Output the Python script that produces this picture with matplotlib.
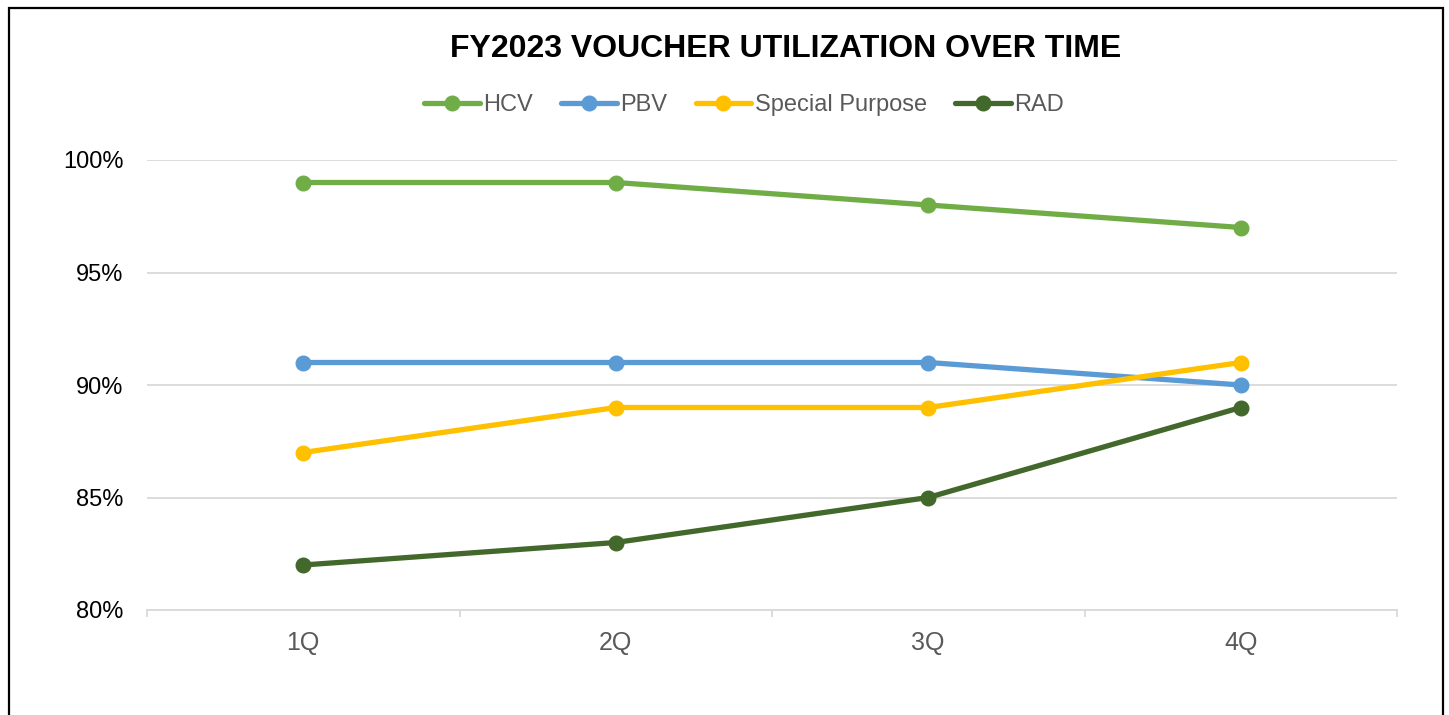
import matplotlib
matplotlib.use("Agg")
import matplotlib.pyplot as plt
from matplotlib.patches import Rectangle
from matplotlib.ticker import FixedLocator, PercentFormatter

plt.rcParams['font.family'] = ['Liberation Sans', 'DejaVu Sans']

quarters = ['1Q', '2Q', '3Q', '4Q']
hcv = [99, 99, 98, 97]
pbv = [91, 91, 91, 90]
special = [87, 89, 89, 91]
rad = [82, 83, 85, 89]

series = [
    ('HCV', hcv, '#70AD47'),
    ('PBV', pbv, '#5B9BD5'),
    ('Special Purpose', special, '#FFC000'),
    ('RAD', rad, '#43682B'),
]

fig = plt.figure(figsize=(14.49, 7.15), dpi=100)
ax = fig.add_axes([147 / 1449, 1 - 610 / 715, 1250 / 1449, 450 / 715])

x = list(range(len(quarters)))
for name, vals, col in series:
    ax.plot(x, vals, color=col, lw=3.8, marker='o', ms=10.5, label=name,
            solid_capstyle='round', zorder=3)

ax.set_xlim(-0.5, 3.5)
ax.set_ylim(80, 100)
ax.set_yticks([80, 85, 90, 95, 100])
ax.yaxis.set_major_formatter(PercentFormatter(decimals=0))
ax.set_xticks(x)
ax.set_xticklabels(quarters)
ax.xaxis.set_minor_locator(FixedLocator([-0.5, 0.5, 1.5, 2.5, 3.5]))

ax.grid(axis='y', color='#D9D9D9', lw=1.3, zorder=0)
for s in ['top', 'right', 'left']:
    ax.spines[s].set_visible(False)
ax.spines['bottom'].set_color('#D9D9D9')
ax.spines['bottom'].set_linewidth(1.3)

ax.tick_params(axis='y', length=0, labelsize=17, labelcolor='black', pad=17)
ax.tick_params(axis='x', which='major', length=0, labelsize=18, labelcolor='#595959', pad=15)
ax.tick_params(axis='x', which='minor', length=5, width=1.3, color='#D9D9D9')

fig.text(786 / 1449, 1 - 49 / 715, 'FY2023 VOUCHER UTILIZATION OVER TIME',
         ha='center', va='center', fontsize=23, fontweight='bold')

leg = fig.legend(loc='center', bbox_to_anchor=(744 / 1449, 1 - 105 / 715), ncol=4,
                 frameon=False, fontsize=17, handlelength=2.35, handletextpad=0.15,
                 columnspacing=1.2)
for t in leg.get_texts():
    t.set_color('#595959')

# chart frame
fig.patches.append(Rectangle((9 / 1449, -0.05), (1443 - 9) / 1449, 1.05 - 8 / 715,
                             transform=fig.transFigure, fill=False,
                             edgecolor='black', lw=1.6))

fig.savefig('out.png', dpi=100, facecolor='white')
